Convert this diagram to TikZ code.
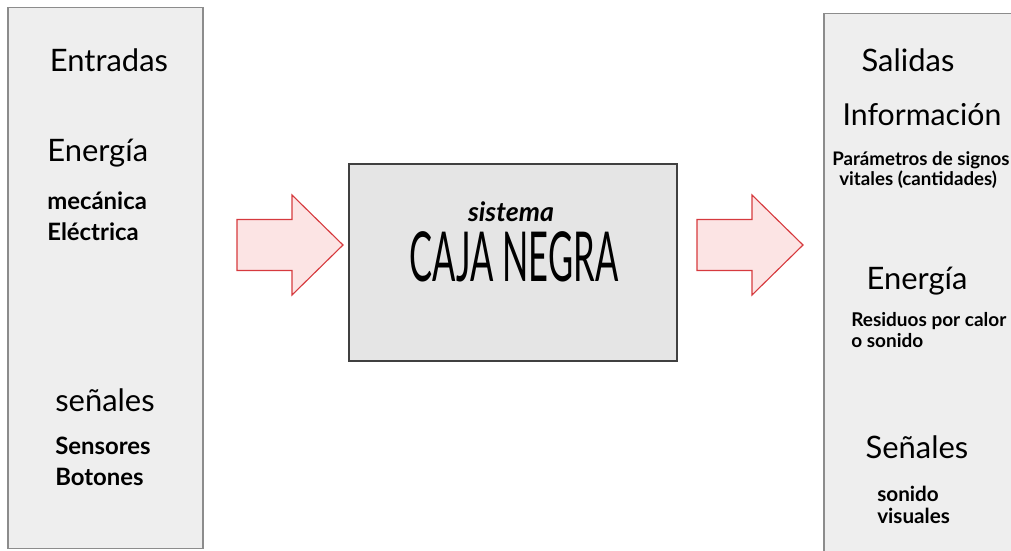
\documentclass[tikz,border=0pt]{standalone}
\usepackage{fontspec}
\usepackage{graphicx}
\setmainfont{Lato}
\usetikzlibrary{positioning}
\definecolor{boxgray}{RGB}{238,238,238}
\definecolor{midgray}{RGB}{229,229,229}
\definecolor{edgegray}{RGB}{140,140,140}
\definecolor{arrowred}{RGB}{214,58,62}
\definecolor{arrowpink}{RGB}{252,228,228}

\begin{document}
\begin{tikzpicture}[
  x=0.025cm, y=-0.025cm,
  sidebox/.style={draw=edgegray,fill=boxgray,line width=0.8pt,inner sep=0pt},
  blackbox/.style={draw=black!75,fill=midgray,line width=0.9pt,inner sep=0pt,minimum width=8.2cm,minimum height=4.925cm},
  head/.style={inner sep=0pt,font=\fontsize{22}{24}\selectfont},
  detail/.style={inner sep=0pt,align=left,font=\fontsize{17}{22}\selectfont\bfseries},
  pics/bigarrow/.style={code={
    \draw[draw=arrowred,fill=arrowpink,line width=0.8pt,line join=miter]
      (0,-25.5) -- (55,-25.5) -- (55,-50) -- (106,0) -- (55,50) -- (55,25.5) -- (0,25.5) -- cycle;
  }},
]
\useasboundingbox (0,0) rectangle (1011,551);

% cajas
\node[sidebox,minimum width=4.875cm,minimum height=13.5cm] (entradas) at (105.5,278) {};
\node[blackbox] (caja) at (513,262.5) {};
\node[sidebox,minimum width=4.775cm,minimum height=13.55cm] (salidas) at (919.5,285) {};

% flechas
\pic at (237,245) {bigarrow};
\pic at (697,245) {bigarrow};

% caja negra
\node[inner sep=0pt,anchor=base,font=\fontsize{19}{20}\selectfont\bfseries\itshape] (sistema) at (511,221) {sistema};
\node[inner sep=0pt,anchor=base,font=\fontsize{49}{50}\selectfont] (negra) at (514,281) {\scalebox{0.5}[1]{CAJA NEGRA}};

% entradas
\node[head] (tent) at (109,60) {Entradas};
\node[head,anchor=west] (ten) at (47,153) {Energía};
\node[detail,anchor=west] (tmec) at (47,216) {mecánica\\Eléctrica};
\node[head,anchor=west] (tsen) at (55,400) {señales};
\node[detail,anchor=west] (tbot) at (55,461) {Sensores\\Botones};

% salidas
\node[head] (tsal) at (908,60) {Salidas};
\node[head,font=\fontsize{21.5}{23}\selectfont] (tinf) at (922,115) {Información};
\node[detail,anchor=west,font=\fontsize{13.3}{14}\selectfont\bfseries] (tpar) at (832,170) {Parámetros de signos\\\hspace{5pt}vitales (cantidades)};
\node[head] (teno) at (917,281) {Energía};
\node[detail,anchor=west,font=\fontsize{13.5}{15}\selectfont\bfseries] (tres) at (851,330) {Residuos por calor\\o sonido};
\node[head] (tseo) at (917,447) {Señales};
\node[detail,anchor=west,font=\fontsize{14.7}{16}\selectfont\bfseries] (tson) at (877,505) {sonido\\visuales};

\end{tikzpicture}
\end{document}
